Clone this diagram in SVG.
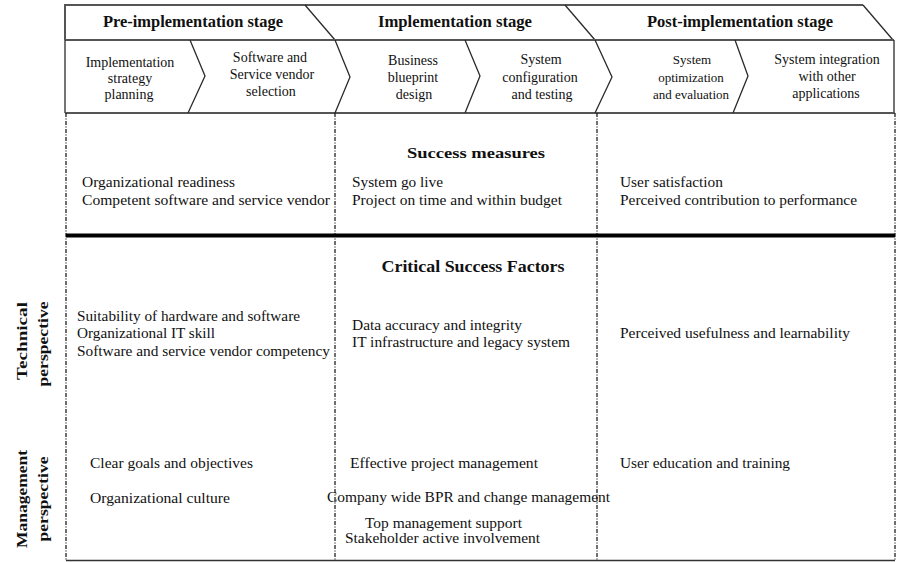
<svg xmlns="http://www.w3.org/2000/svg" width="897" height="562" viewBox="0 0 897 562">
<style>
text{font-family:"Liberation Serif","Times New Roman",serif;fill:#111}
.h{font-size:16px;font-weight:bold;text-anchor:middle}
.s{font-size:14px;text-anchor:middle}
.b{font-size:14px}
.t{font-size:15px;font-weight:bold;text-anchor:middle}
.r{font-size:15px;font-weight:bold;text-anchor:middle}
.ln{fill:none;stroke:#2a2a2a;stroke-width:1.3}
.dbl{fill:none;stroke:#555;stroke-width:2}
.dash{fill:none;stroke:#222;stroke-width:1.3;stroke-dasharray:4 1.5 1 1.5}
</style>
<rect width="897" height="562" fill="#fff"/>
<g id="header">
  <g id="stage-pre">
    <polyline class="dbl" points="65,40 65,5 305,5"/>
    <text class="h" x="193" y="27" textLength="180" lengthAdjust="spacingAndGlyphs">Pre-implementation stage</text>
  </g>
  <g id="stage-impl">
    <polyline class="dbl" points="305,5 565,5"/>
    <polyline class="ln" points="305,5 335,40"/>
    <text class="h" x="455" y="27" textLength="154" lengthAdjust="spacingAndGlyphs">Implementation stage</text>
  </g>
  <g id="stage-post">
    <polyline class="dbl" points="565,5 863,5"/>
    <polyline class="ln" points="565,5 595,40"/>
    <polyline class="ln" points="863,5 893,40"/>
    <text class="h" x="740" y="27" textLength="186" lengthAdjust="spacingAndGlyphs">Post-implementation stage</text>
  </g>
  <line class="dbl" x1="65" y1="40" x2="894" y2="40"/>
</g>
<g id="substages">
  <line class="ln" x1="65" y1="40" x2="65" y2="113"/>
  <line class="ln" x1="894" y1="40" x2="894" y2="113"/>
  <line class="dbl" x1="65" y1="113" x2="895" y2="113"/>
  <g id="sub1">
    <polyline class="ln" points="190,40 205,76 188,113"/>
    <text class="s" x="130" y="67">Implementation</text>
    <text class="s" x="130" y="83">strategy</text>
    <text class="s" x="129" y="99">planning</text>
  </g>
  <g id="sub2">
    <polyline class="ln" points="335,40 350,77 335,113"/>
    <text class="s" x="270" y="62">Software and</text>
    <text class="s" x="272" y="79">Service vendor</text>
    <text class="s" x="271" y="96">selection</text>
  </g>
  <g id="sub3">
    <polyline class="ln" points="465,40 480,76 465,113"/>
    <text class="s" x="413" y="65">Business</text>
    <text class="s" x="413" y="82">blueprint</text>
    <text class="s" x="414" y="99">design</text>
  </g>
  <g id="sub4">
    <polyline class="ln" points="595,40 612,77 595,113"/>
    <text class="s" x="541" y="64">System</text>
    <text class="s" x="540" y="82">configuration</text>
    <text class="s" x="542" y="99">and testing</text>
  </g>
  <g id="sub5">
    <polyline class="ln" points="735,40 748,76 733,113"/>
    <text class="s" x="692" y="64" style="font-size:13px">System</text>
    <text class="s" x="691" y="82" style="font-size:13px">optimization</text>
    <text class="s" x="691" y="99" style="font-size:13px">and evaluation</text>
  </g>
  <g id="sub6">
    <text class="s" x="827" y="64">System integration</text>
    <text class="s" x="827" y="81">with other</text>
    <text class="s" x="826" y="98">applications</text>
  </g>
</g>
<g id="grid">
  <line class="dash" x1="66" y1="113" x2="66" y2="561"/>
  <line class="dash" x1="335" y1="113" x2="335" y2="561"/>
  <line class="dash" x1="597" y1="113" x2="597" y2="561"/>
  <line class="dash" x1="895" y1="113" x2="895" y2="561"/>
  <line x1="66" y1="235.5" x2="895" y2="235.5" stroke="#000" stroke-width="4"/>
  <line x1="66" y1="560.5" x2="895" y2="560.5" stroke="#333" stroke-width="1.5"/>
</g>
<g id="success-measures">
  <text class="t" x="476" y="158" textLength="138" lengthAdjust="spacingAndGlyphs">Success  measures</text>
  <text class="b" x="82" y="187" textLength="153" lengthAdjust="spacingAndGlyphs">Organizational readiness</text>
  <text class="b" x="82" y="205" textLength="248" lengthAdjust="spacingAndGlyphs">Competent software  and service vendor</text>
  <text class="b" x="352" y="187" textLength="91" lengthAdjust="spacingAndGlyphs">System go live</text>
  <text class="b" x="352" y="205" textLength="210" lengthAdjust="spacingAndGlyphs">Project on time and within budget</text>
  <text class="b" x="620" y="187" textLength="103" lengthAdjust="spacingAndGlyphs">User satisfaction</text>
  <text class="b" x="620" y="205" textLength="237" lengthAdjust="spacingAndGlyphs">Perceived contribution to performance</text>
</g>
<g id="csf">
  <text class="t" x="473" y="272" textLength="183" lengthAdjust="spacingAndGlyphs" style="font-size:16px">Critical Success Factors</text>
</g>
<g id="technical">
  <text class="r" transform="translate(27,341) rotate(-90)" textLength="78" lengthAdjust="spacingAndGlyphs">Technical</text>
  <text class="r" transform="translate(48,344) rotate(-90)" textLength="85" lengthAdjust="spacingAndGlyphs">perspective</text>
  <text class="b" x="77" y="321" textLength="223" lengthAdjust="spacingAndGlyphs">Suitability of hardware and software</text>
  <text class="b" x="77" y="338" textLength="138" lengthAdjust="spacingAndGlyphs">Organizational IT skill</text>
  <text class="b" x="77" y="356" textLength="253" lengthAdjust="spacingAndGlyphs">Software and service vendor competency</text>
  <text class="b" x="352" y="330" textLength="170" lengthAdjust="spacingAndGlyphs">Data accuracy and integrity</text>
  <text class="b" x="352" y="347" textLength="218" lengthAdjust="spacingAndGlyphs">IT infrastructure and legacy system</text>
  <text class="b" x="620" y="338" textLength="230" lengthAdjust="spacingAndGlyphs">Perceived usefulness and learnability</text>
</g>
<g id="management">
  <text class="r" transform="translate(27,499) rotate(-90)" textLength="98" lengthAdjust="spacingAndGlyphs">Management</text>
  <text class="r" transform="translate(48,499) rotate(-90)" textLength="85" lengthAdjust="spacingAndGlyphs">perspective</text>
  <text class="b" x="90" y="468" textLength="163" lengthAdjust="spacingAndGlyphs">Clear goals and objectives</text>
  <text class="b" x="90" y="503" textLength="140" lengthAdjust="spacingAndGlyphs">Organizational culture</text>
  <text class="b" x="350" y="468" textLength="188" lengthAdjust="spacingAndGlyphs">Effective project management</text>
  <text class="b" x="327" y="502" textLength="283" lengthAdjust="spacingAndGlyphs">Company wide BPR and change management</text>
  <text class="b" x="365" y="528" textLength="157" lengthAdjust="spacingAndGlyphs">Top management support</text>
  <text class="b" x="345" y="543" textLength="195" lengthAdjust="spacingAndGlyphs">Stakeholder active involvement</text>
  <text class="b" x="620" y="468" textLength="170" lengthAdjust="spacingAndGlyphs">User education and training</text>
</g>
</svg>
